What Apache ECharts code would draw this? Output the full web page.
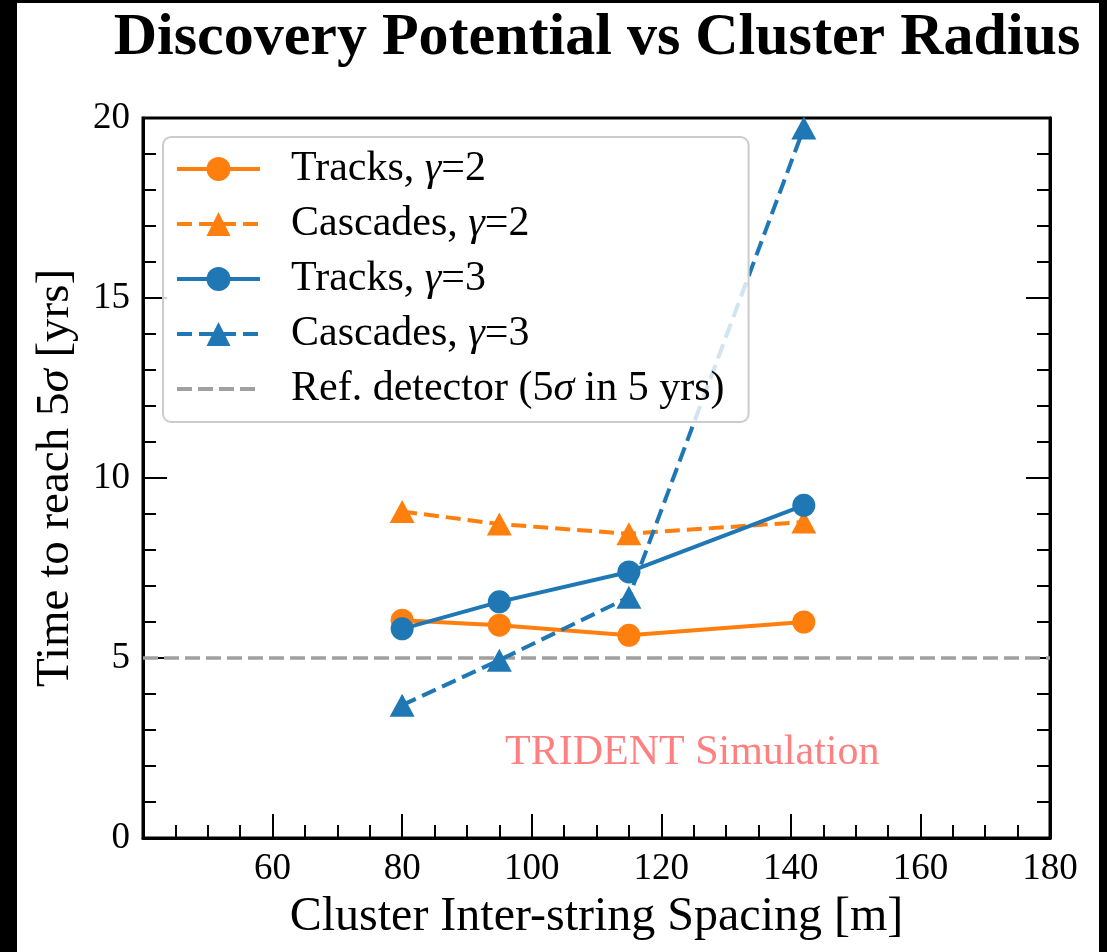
<!DOCTYPE html>
<html>
<head>
<meta charset="utf-8">
<title>Discovery Potential vs Cluster Radius</title>
<script src="https://cdn.jsdelivr.net/npm/echarts@6/dist/echarts.min.js"></script>
<style>
  html, body { margin: 0; padding: 0; background: #000; }
  body { width: 1107px; height: 952px; position: relative; overflow: hidden; }
  #chart { position: absolute; left: 17px; top: 3px; width: 1082px; height: 949px; background: #fff; }
</style>
</head>
<body>
<div id="chart"></div>
<script>
// Inter-string spacing of the cluster [m]
const spacing = [80, 95, 115, 142];

// Time to reach 5 sigma [yrs]
const tracksG2   = [6.05, 5.91, 5.63, 6.00];
const cascadesG2 = [9.07, 8.72, 8.45, 8.78];
const tracksG3   = [5.81, 6.56, 7.39, 9.24];
const cascadesG3 = [3.69, 4.94, 6.69, 19.72];

// Reference detector: 5 sigma in 5 years
const refYears = 5;

const xRange = [40, 180];
const yRange = [0, 20];
const xTickStep = 20;
const yTickStep = 5;

const seriesNames = [
  'Tracks, γ=2',
  'Cascades, γ=2',
  'Tracks, γ=3',
  'Cascades, γ=3',
  'Ref. detector (5σ in 5 yrs)'
];

const ORANGE = '#ff7f0e';
const BLUE = '#1f77b4';
const GREY = '#a0a0a0';
const FONT = '"Liberation Serif", "DejaVu Serif", serif';

function pairs(ys) {
  return spacing.map((x, i) => [x, ys[i]]);
}

// Put Greek letters in italic, as in math mode
function mathText(s) {
  return s.replace(/([γσ])/g, '{i|$1}');
}

const italicRich = (size) => ({
  i: { fontFamily: FONT, fontStyle: 'italic', fontSize: size, color: '#000' }
});

function dataSeries(name, ys, color, symbol, dashed) {
  return {
    name: name,
    type: 'line',
    data: pairs(ys),
    symbol: symbol,
    symbolSize: symbol === 'circle' ? 23 : [25, 23],
    showSymbol: true,
    color: color,
    itemStyle: { color: color },
    lineStyle: { color: color, width: 4, type: dashed ? [15, 7] : 'solid' },
    emphasis: { disabled: true },
    z: 3
  };
}

const chart = echarts.init(document.getElementById('chart'), null, { renderer: 'canvas' });

const tickCommon = {
  axisTick: { show: true, inside: true, length: 24, lineStyle: { color: '#000', width: 2 } },
  minorTick: { show: true, length: 13, lineStyle: { color: '#000', width: 2 } },
  splitLine: { show: false },
  minorSplitLine: { show: false }
};

// Legend entries; the reference line shows only its dashes
const legendData = seriesNames.map((n, i) =>
  i === 4 ? { name: n, itemStyle: { opacity: 0 } } : { name: n }
);

const option = {
  animation: false,
  backgroundColor: '#fff',
  textStyle: { fontFamily: FONT },
  grid: {
    left: 126, top: 115, right: 49, bottom: 114,
    show: true, borderColor: '#000', borderWidth: 3, backgroundColor: 'transparent'
  },
  graphic: [
    {
      type: 'text', x: 580, y: 35, z: 10,
      style: {
        text: 'Discovery Potential vs Cluster Radius',
        fill: '#000',
        font: 'bold 60px ' + FONT,
        textAlign: 'center', textVerticalAlign: 'middle'
      }
    },
    {
      type: 'text', x: 488, y: 750, z: 10,
      style: {
        text: 'TRIDENT Simulation',
        fill: '#ff8080',
        font: '42px ' + FONT,
        textAlign: 'left', textVerticalAlign: 'middle'
      }
    }
  ],
  legend: {
    orient: 'vertical',
    left: 146, top: 134,
    data: legendData,
    itemWidth: 83, itemHeight: 30, itemGap: 13,
    padding: [11, 24, 12, 12],
    backgroundColor: 'rgba(255,255,255,0.8)',
    borderColor: '#cccccc', borderWidth: 2, borderRadius: 8,
    selectedMode: false,
    lineStyle: { width: 4 },
    formatter: (name) => mathText(name),
    textStyle: {
      fontFamily: FONT, fontSize: 42, color: '#000', lineHeight: 40,
      padding: [0, 0, 0, 26],
      rich: italicRich(42)
    },
    z: 6
  },
  xAxis: Object.assign({
    type: 'value',
    min: xRange[0], max: xRange[1], interval: xTickStep,
    name: 'Cluster Inter-string Spacing [m]',
    nameLocation: 'middle', nameGap: 49,
    nameTextStyle: { fontFamily: FONT, fontSize: 48, color: '#000' },
    axisLine: { show: true, onZero: false, lineStyle: { color: '#000', width: 3 } },
    axisLabel: {
      show: true, margin: 13, color: '#000', fontFamily: FONT, fontSize: 37,
      formatter: (v) => (v === xRange[0] ? '' : String(v))
    }
  }, tickCommon, { minorTick: Object.assign({}, tickCommon.minorTick, { splitNumber: 4 }) }),
  yAxis: [
    Object.assign({
      type: 'value',
      min: yRange[0], max: yRange[1], interval: yTickStep,
      position: 'left',
      name: 'Time to reach 5σ [yrs]'.replace('σ', '{i|σ}'),
      nameLocation: 'middle', nameGap: 64,
      nameTextStyle: { fontFamily: FONT, fontSize: 47, color: '#000', rich: italicRich(47) },
      axisLine: { show: true, onZero: false, lineStyle: { color: '#000', width: 3 } },
      axisLabel: { show: true, margin: 13, color: '#000', fontFamily: FONT, fontSize: 37 }
    }, tickCommon, { minorTick: Object.assign({}, tickCommon.minorTick, { splitNumber: 5 }) }),
    Object.assign({
      type: 'value',
      min: yRange[0], max: yRange[1], interval: yTickStep,
      position: 'right',
      axisLine: { show: true, onZero: false, lineStyle: { color: '#000', width: 3 } },
      axisLabel: { show: false }
    }, tickCommon, { minorTick: Object.assign({}, tickCommon.minorTick, { splitNumber: 5 }) })
  ],
  series: [
    {
      name: seriesNames[4],
      type: 'line',
      data: [[xRange[0], refYears], [xRange[1], refYears]],
      symbol: 'none',
      color: GREY,
      itemStyle: { color: GREY },
      lineStyle: { color: GREY, width: 3.5, type: [15, 6] },
      emphasis: { disabled: true },
      z: 2
    },
    dataSeries(seriesNames[0], tracksG2, ORANGE, 'circle', false),
    dataSeries(seriesNames[1], cascadesG2, ORANGE, 'triangle', true),
    dataSeries(seriesNames[2], tracksG3, BLUE, 'circle', false),
    dataSeries(seriesNames[3], cascadesG3, BLUE, 'triangle', true)
  ]
};

chart.setOption(option);
</script>
</body>
</html>
